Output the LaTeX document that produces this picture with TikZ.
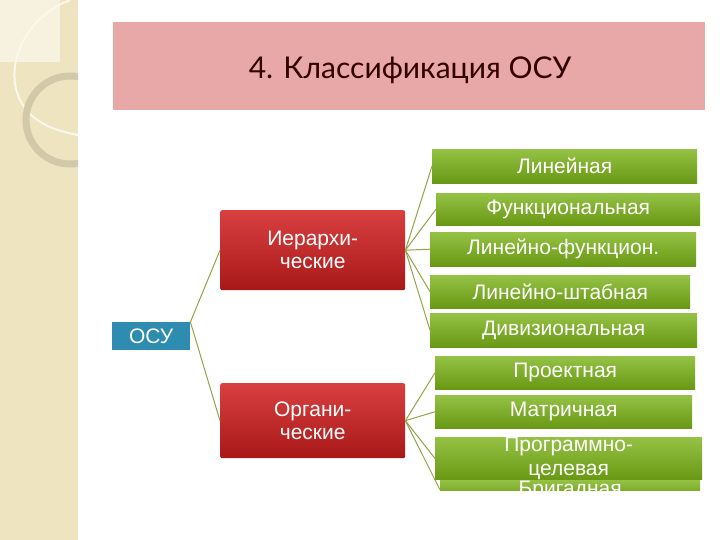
\documentclass[tikz,border=0pt]{standalone}
\usepackage{fontspec}
\setmainfont{Liberation Sans}
\newfontfamily\titlefont{Lato}
\definecolor{beige}{HTML}{EFE4C0}
\definecolor{pinkbar}{HTML}{E8A8A8}
\definecolor{teal}{HTML}{2E8CB0}
\definecolor{redb}{HTML}{D21E1E}
\definecolor{greenb}{HTML}{7AB317}
\definecolor{lineg}{HTML}{8FA548}
\tikzset{
 gbox/.style={draw=none,inner sep=0,top color=greenb!80!white,bottom color=greenb!85!black,text=white,font=\fontsize{21}{21}\selectfont,anchor=north west},
 rbox/.style={draw=none,inner sep=0,top color=redb!85!white,bottom color=redb!80!black,text=white,font=\fontsize{21}{23}\selectfont,align=center,anchor=north west,rounded corners=2pt},
 conn/.style={draw=lineg,line width=1pt}
}
\begin{document}
\begin{tikzpicture}[x=1pt,y=-1pt]
\useasboundingbox (0,0) rectangle (720,540);
\fill[white] (0,0) rectangle (720,540);
\fill[beige] (0,0) rectangle (78,540);
\begin{scope}
\clip (0,0) rectangle (78,540);
\fill[white!50!beige] (0,0) rectangle (60,62);
\draw[white!70!beige,line width=2pt] (70,0) .. controls (20,20) and (5,70) .. (20,100) .. controls (30,120) and (50,130) .. (78,135);
\draw[beige!88!black,line width=7pt] (70,120) circle[radius=44];
\end{scope}
\fill[pinkbar] (113,22) rectangle (705,110);
\node[font=\titlefont\fontsize{30}{30}\selectfont,text=black!80!red] (title) at (410,70) {4. Классификация ОСУ};
\node[fill=teal,text=white,font=\fontsize{21}{21}\selectfont,minimum width=78pt,minimum height=28pt,inner sep=0,anchor=north west] (osu) at (112,322) {ОСУ};
\node[rbox,minimum width=185pt,minimum height=80pt] (h) at (220,210) {Иерархи-\\ческие};
\node[rbox,minimum width=185pt,minimum height=75pt] (o) at (220,383) {Органи-\\ческие};
\node[gbox,minimum width=265pt,minimum height=34pt] (g1) at (432,149) {Линейная};
\node[gbox,minimum width=264pt,minimum height=32pt] (g2) at (436,193) {Функциональная};
\node[gbox,minimum width=266pt,minimum height=34pt] (g3) at (430,232) {Линейно-функцион.};
\node[gbox,minimum width=260pt,minimum height=33pt] (g4) at (430,275) {Линейно-штабная};
\node[gbox,minimum width=267pt,minimum height=34pt] (g5) at (430,313) {Дивизиональная};
\node[gbox,minimum width=260pt,minimum height=33pt] (g6) at (435,356) {Проектная};
\node[gbox,minimum width=257pt,minimum height=33pt] (g7) at (435,395) {Матричная};
\node[gbox,minimum width=267pt,minimum height=33pt,align=center,font=\fontsize{21}{24}\selectfont] (g8) at (435,437) {Программно-\\целевая};
\begin{scope}
\clip (430,480) rectangle (710,490);
\node[gbox,minimum width=260pt,minimum height=10pt,text height=15pt] (g9) at (440,480) {Бригадная};
\end{scope}
\draw[conn] (osu.north east) -- (h.west);
\draw[conn] (osu.north east) -- (o.west);
\foreach \g in {g1,g2,g3,g4,g5} \draw[conn] (h.east) -- (\g.west);
\foreach \g in {g6,g7,g8,g9} \draw[conn] (o.east) -- (\g.west);
\end{tikzpicture}
\end{document}
